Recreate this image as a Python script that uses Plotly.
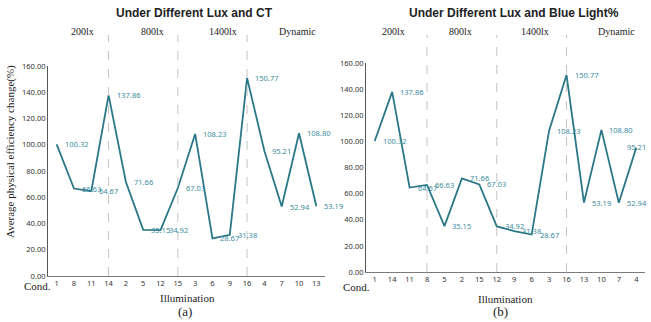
import plotly.graph_objects as go

W, H = 651, 322

# ---------------- data ----------------
cond_a = ["1", "8", "11", "14", "2", "5", "12", "15", "3", "6", "9", "16", "4", "7", "10", "13"]
vals_a = [100.32, 66.63, 64.67, 137.86, 71.66, 35.15, 34.92, 67.03, 108.23, 28.67, 31.38, 150.77, 95.21, 52.94, 108.80, 53.19]

cond_b = ["1", "14", "11", "8", "5", "2", "15", "12", "9", "6", "3", "16", "13", "10", "7", "4"]
vals_b = [100.32, 137.86, 64.67, 66.63, 35.15, 71.66, 67.03, 34.92, 31.38, 28.67, 108.23, 150.77, 53.19, 108.80, 52.94, 95.21]

section_labels = ["200lx", "800lx", "1400lx", "Dynamic"]
divider_idx = [3, 7, 11]
y_ticks = [0, 20, 40, 60, 80, 100, 120, 140, 160]

title_a = "Under Different Lux and CT"
title_b = "Under Different Lux and Blue Light%"
y_title = "Average physical efficiency change(%)"
x_title = "Illumination"

# ---------------- style ----------------
LINE = "#2a7787"
LABEL = "#3b8c9d"
DARK = "#222222"
SANS = "Noto Sans, Liberation Sans, Arial"
SERIF = "Liberation Serif, Times New Roman, serif"


def px_x(p):
    return p / W


def px_y(p):
    return 1 - p / H


fig = go.Figure()
fig.add_trace(go.Scatter(x=cond_a, y=vals_a, mode="lines", line=dict(color=LINE, width=1.8),
                         xaxis="x", yaxis="y", hoverinfo="skip"))
fig.add_trace(go.Scatter(x=cond_b, y=vals_b, mode="lines", line=dict(color=LINE, width=1.8),
                         xaxis="x2", yaxis="y2", hoverinfo="skip"))

xcommon = dict(type="category", range=[-0.5, 15.5], showline=True, linecolor="#7a7a7a", linewidth=1,
               showgrid=False, zeroline=False, ticks="", automargin=False,
               tickfont=dict(family=SANS, size=7.5, color="#333"))
ycommon = dict(range=[0, 160], tickvals=y_ticks, tickformat=".2f", showline=True, linecolor="#555",
               linewidth=1, showgrid=False, zeroline=False, ticks="", automargin=False,
               tickfont=dict(family=SANS, size=7.5, color="#333"))

dom_xa = [px_x(48), px_x(325)]
dom_ya = [px_y(276), px_y(66)]
dom_xb = [px_x(366), px_x(645)]
dom_yb = [px_y(272), px_y(63)]

fig.update_layout(
    width=W, height=H, margin=dict(l=0, r=0, t=0, b=0, autoexpand=False),
    paper_bgcolor="white", plot_bgcolor="white", showlegend=False,
    xaxis=dict(domain=dom_xa, anchor="y", **xcommon),
    yaxis=dict(domain=dom_ya, anchor="x", **ycommon),
    xaxis2=dict(domain=dom_xb, anchor="y2", **xcommon),
    yaxis2=dict(domain=dom_yb, anchor="x2", **ycommon),
)

ann = []
shapes = []

# data labels (x given as category index position)
for i, v in enumerate(vals_a):
    ann.append(dict(x=i, y=v, xref="x", yref="y", text=f"{v:.2f}", showarrow=False,
                    xanchor="left", yanchor="middle", xshift=6,
                    font=dict(family=SANS, size=7.5, color=LABEL)))
for i, v in enumerate(vals_b):
    last = i == len(vals_b) - 1
    ann.append(dict(x=i, y=v, xref="x2", yref="y2", text=f"{v:.2f}", showarrow=False,
                    xanchor="center" if last else "left", yanchor="middle",
                    xshift=0 if last else 6, yshift=1 if last else 0,
                    font=dict(family=SANS, size=7.5, color=LABEL)))

# dashed dividers
for xr, ydom in (("x", dom_ya), ("x2", dom_yb)):
    for idx in divider_idx:
        shapes.append(dict(type="line", xref=xr, yref="paper", x0=idx, x1=idx,
                           y0=ydom[0], y1=px_y(35),
                           line=dict(color="#c4c4c4", width=1, dash="dash")))

# titles
TFONT = dict(family="Liberation Sans, Arial", size=12, color=DARK, weight="bold")
ann.append(dict(x=px_x(194), y=px_y(13), xref="paper", yref="paper", text=title_a, showarrow=False,
                xanchor="center", yanchor="middle", font=TFONT))
ann.append(dict(x=px_x(514), y=px_y(13), xref="paper", yref="paper", text=title_b, showarrow=False,
                xanchor="center", yanchor="middle", font=TFONT))

# section labels
sec_a = [82, 152, 223, 297]
sec_b = [393, 460, 535, 616]
for lab, xa, xb in zip(section_labels, sec_a, sec_b):
    for xx in (xa, xb):
        ann.append(dict(x=px_x(xx), y=px_y(32), xref="paper", yref="paper", text=lab, showarrow=False,
                        xanchor="center", yanchor="middle", font=dict(family=SERIF, size=10, color=DARK)))

# Cond. labels
ann.append(dict(x=px_x(37), y=px_y(286), xref="paper", yref="paper", text="Cond.", showarrow=False,
                xanchor="center", yanchor="middle", font=dict(family=SERIF, size=11, color=DARK)))
ann.append(dict(x=px_x(356), y=px_y(287), xref="paper", yref="paper", text="Cond.", showarrow=False,
                xanchor="center", yanchor="middle", font=dict(family=SERIF, size=11, color=DARK)))

# axis titles
ann.append(dict(x=px_x(187), y=px_y(298), xref="paper", yref="paper", text=x_title, showarrow=False,
                xanchor="center", yanchor="middle", font=dict(family=SERIF, size=11, color=DARK)))
ann.append(dict(x=px_x(505), y=px_y(299), xref="paper", yref="paper", text=x_title, showarrow=False,
                xanchor="center", yanchor="middle", font=dict(family=SERIF, size=11, color=DARK)))
ann.append(dict(x=px_x(185), y=px_y(311), xref="paper", yref="paper", text="(a)", showarrow=False,
                xanchor="center", yanchor="middle", font=dict(family=SERIF, size=13, color=DARK)))
ann.append(dict(x=px_x(500), y=px_y(311), xref="paper", yref="paper", text="(b)", showarrow=False,
                xanchor="center", yanchor="middle", font=dict(family=SERIF, size=13, color=DARK)))
ann.append(dict(x=px_x(10), y=px_y(152), xref="paper", yref="paper", text=y_title, showarrow=False,
                textangle=-90, xanchor="center", yanchor="middle", font=dict(family=SERIF, size=11, color=DARK)))

fig.update_layout(annotations=ann, shapes=shapes)
fig.write_html("out.html", config={"displayModeBar": False},
               post_script="document.body.style.margin='0';document.body.style.overflow='hidden';")
